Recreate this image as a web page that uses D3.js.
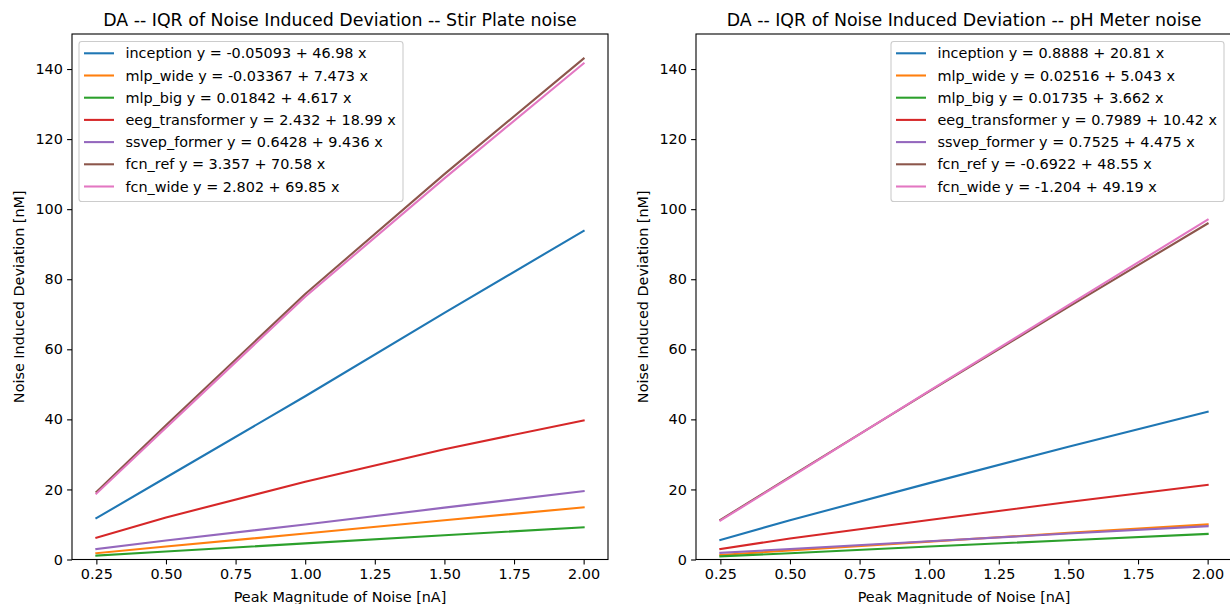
<!DOCTYPE html>
<html>
<head>
<meta charset="utf-8">
<script src="https://cdn.jsdelivr.net/npm/d3@7"></script>
<style>
  html, body { margin: 0; padding: 0; background: #fff; }
  svg { display: block; font-family: "DejaVu Sans", sans-serif; }
</style>
</head>
<body>
<svg id="chart" width="1230" height="604"></svg>
<script>
// ---- data ----
const xValues = [0.25, 0.5, 1.0, 1.5, 2.0];
const seriesNames = ["inception", "mlp_wide", "mlp_big", "eeg_transformer", "ssvep_former", "fcn_ref", "fcn_wide"];
const colors = ["#1f77b4", "#ff7f0e", "#2ca02c", "#d62728", "#9467bd", "#8c564b", "#e377c2"];

const stirTitle = "DA -- IQR of Noise Induced Deviation -- Stir Plate noise";
const stirFits = ["y = -0.05093 + 46.98 x", "y = -0.03367 + 7.473 x", "y = 0.01842 + 4.617 x",
  "y = 2.432 + 18.99 x", "y = 0.6428 + 9.436 x", "y = 3.357 + 70.58 x", "y = 2.802 + 69.85 x"];
const stirInception = [11.8, 23.4, 46.6, 70.4, 93.8];
const stirMlpWide = [1.8, 3.7, 7.4, 11.2, 14.9];
const stirMlpBig = [1.1, 2.3, 4.6, 6.9, 9.2];
const stirEeg = [6.2, 12.0, 22.2, 31.5, 39.7];
const stirSsvep = [3.0, 5.4, 10.0, 14.8, 19.5];
const stirFcnRef = [19.3, 38.3, 75.8, 110.0, 143.0];
const stirFcnWide = [18.8, 37.6, 75.0, 108.8, 141.6];

const phTitle = "DA -- IQR of Noise Induced Deviation -- pH Meter noise";
const phFits = ["y = 0.8888 + 20.81 x", "y = 0.02516 + 5.043 x", "y = 0.01735 + 3.662 x",
  "y = 0.7989 + 10.42 x", "y = 0.7525 + 4.475 x", "y = -0.6922 + 48.55 x", "y = -1.204 + 49.19 x"];
const phInception = [5.6, 11.2, 21.8, 32.2, 42.2];
const phMlpWide = [1.3, 2.6, 5.1, 7.6, 10.0];
const phMlpBig = [0.9, 1.8, 3.7, 5.5, 7.3];
const phEeg = [3.0, 6.0, 11.3, 16.4, 21.3];
const phSsvep = [1.9, 3.0, 5.2, 7.4, 9.5];
const phFcnRef = [11.3, 23.6, 48.0, 72.1, 95.9];
const phFcnWide = [11.1, 23.4, 48.1, 72.6, 97.0];

const xTicks = [0.25, 0.5, 0.75, 1.0, 1.25, 1.5, 1.75, 2.0];
const yTicks = [0, 20, 40, 60, 80, 100, 120, 140];
const xLabel = "Peak Magnitude of Noise [nA]";
const yLabel = "Noise Induced Deviation [nM]";

// ---- drawing ----
const svg = d3.select("#chart");
const fs = 14.4;

function panel(left, title, fits, data, legendRight) {
  const top = 34, bottom = 559.5, width = 536;
  const x = d3.scaleLinear().domain([0.1625, 2.0875]).range([left, left + width]);
  const y = d3.scaleLinear().domain([0, 150]).range([bottom, top]);
  const g = svg.append("g");

  // lines
  const line = d3.line().x((d, i) => x(xValues[i])).y(d => y(d));
  data.forEach((vals, k) => {
    g.append("path").datum(vals).attr("d", line)
      .attr("fill", "none").attr("stroke", colors[k]).attr("stroke-width", 2.08)
      .attr("stroke-linecap", "square").attr("stroke-linejoin", "round");
  });

  // frame
  g.append("rect").attr("x", left).attr("y", top).attr("width", width).attr("height", bottom - top)
    .attr("fill", "none").attr("stroke", "#000").attr("stroke-width", 1.1);

  // axes
  const xa = g.append("g").attr("transform", `translate(0,${bottom})`)
    .call(d3.axisBottom(x).tickValues(xTicks).tickFormat(d3.format(".2f")).tickSize(4.9).tickPadding(4.2));
  const ya = g.append("g").attr("transform", `translate(${left},0)`)
    .call(d3.axisLeft(y).tickValues(yTicks).tickFormat(d3.format("d")).tickSize(4.9).tickPadding(4.2));
  [xa, ya].forEach(a => {
    a.select(".domain").remove();
    a.selectAll("line").attr("stroke", "#000").attr("stroke-width", 1.1);
    a.selectAll("text").attr("font-family", "DejaVu Sans").attr("font-size", fs).attr("fill", "#000");
  });

  // title & labels
  g.append("text").attr("x", left + width / 2).attr("y", 25.7).attr("text-anchor", "middle")
    .attr("font-size", 17.4).attr("fill", "#000").text(title);
  g.append("text").attr("x", left + width / 2).attr("y", 602).attr("text-anchor", "middle")
    .attr("font-size", fs).attr("fill", "#000").text(xLabel);
  const ylx = left - 48;
  g.append("text").attr("transform", `translate(${ylx},${(top + bottom) / 2}) rotate(-90)`)
    .attr("text-anchor", "middle").attr("font-size", fs).attr("fill", "#000").text(yLabel);

  // legend
  const lw = legendRight ? 333 : 324, lh = 160;
  const lx = legendRight ? left + width - 8 - lw : left + 7;
  const ly = 41.5;
  const lg = g.append("g");
  lg.append("rect").attr("x", lx).attr("y", ly).attr("width", lw).attr("height", lh)
    .attr("rx", 2.8).attr("fill", "#fff").attr("fill-opacity", 0.8)
    .attr("stroke", "#cccccc").attr("stroke-width", 1.1);
  seriesNames.forEach((name, k) => {
    const ry = ly + 11.8 + k * 22.2;
    lg.append("line").attr("x1", lx + 5).attr("x2", lx + 35).attr("y1", ry).attr("y2", ry)
      .attr("stroke", colors[k]).attr("stroke-width", 2.08);
    lg.append("text").attr("x", lx + 46.5).attr("y", ry).attr("dy", "0.36em")
      .attr("font-size", fs).attr("fill", "#000").text(name + " " + fits[k]);
  });
}

panel(72, stirTitle, stirFits,
  [stirInception, stirMlpWide, stirMlpBig, stirEeg, stirSsvep, stirFcnRef, stirFcnWide], false);
panel(696, phTitle, phFits,
  [phInception, phMlpWide, phMlpBig, phEeg, phSsvep, phFcnRef, phFcnWide], true);
</script>
</body>
</html>
